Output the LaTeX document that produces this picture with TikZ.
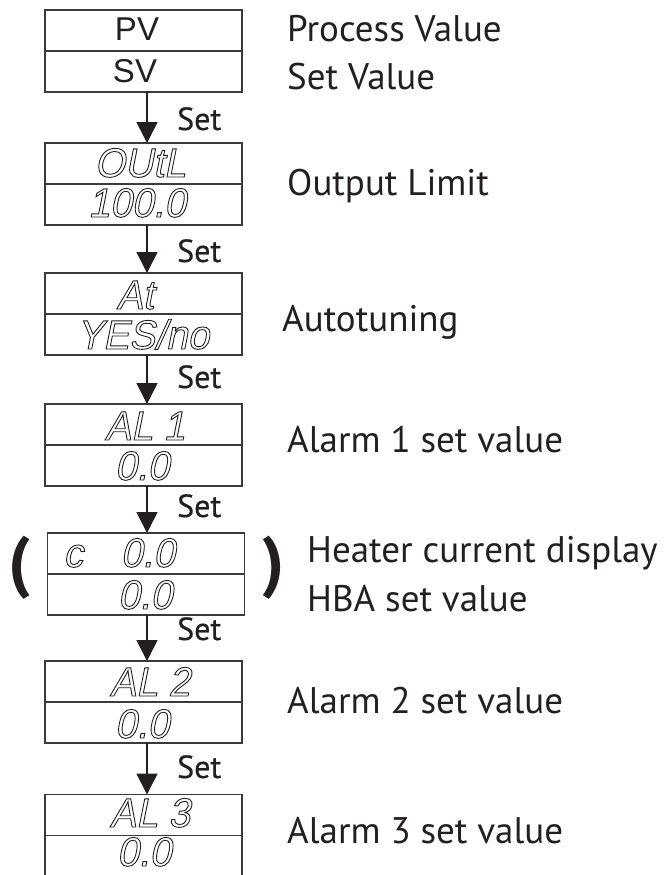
\documentclass[tikz,border=0pt]{standalone}
\usepackage{fontspec}
\setmainfont{PT Sans}
\newfontfamily\segfont[FakeSlant=0.2,FakeStretch=0.95]{Liberation Sans}
\newfontfamily\pvfont{Liberation Sans}
\newfontfamily\setfont[FakeBold=0.5]{PT Sans}
\usetikzlibrary{arrows.meta}
\definecolor{ink}{HTML}{231F20}
\definecolor{frame}{HTML}{3A3A3A}
\newcommand\hollowtext[1]{\special{pdf:literal 1 Tr 0.9 w}#1\special{pdf:literal 0 Tr}}
\begin{document}
\begin{tikzpicture}[x=1pt,y=-1pt,
  half/.style={draw=frame,line width=1.3pt,minimum width=197pt,minimum height=41pt,inner sep=0pt,outer sep=0pt},
  readout/.style={anchor=base,inner sep=0pt,text=ink,font=\segfont\fontsize{41}{41}\selectfont},
  pv/.style={anchor=base,inner sep=0pt,text=ink,font=\pvfont\fontsize{33}{33}\selectfont},
  desc/.style={anchor=base west,inner sep=0pt,text=ink,font=\fontsize{37}{37}\selectfont},
  setlbl/.style={anchor=base west,inner sep=0pt,text=ink,font=\setfont\fontsize{32}{32}\selectfont},
  paren/.style={inner sep=0pt,text=ink,font=\bfseries\fontsize{68}{68}\selectfont},
  flow/.style={draw=ink,line width=1.6pt,-{Triangle[width=21pt,length=21pt]}}
]
\useasboundingbox (0,0) rectangle (670,875);
\clip (0,0) rectangle (670,875);
\coordinate (ax) at (147,0);
% boxes
\node[half] (b1t) at (143.5,30.5) {};
\node[half] (b1b) at (143.5,71.5) {};
\node[half] (b2t) at (143.5,163.5) {};
\node[half] (b2b) at (143.5,204.5) {};
\node[half] (b3t) at (143.5,293.5) {};
\node[half] (b3b) at (143.5,334.5) {};
\node[half] (b4t) at (143.5,424.5) {};
\node[half] (b4b) at (143.5,465.5) {};
\node[half] (b5t) at (146,553.5) {};
\node[half] (b5b) at (146,594.5) {};
\node[half] (b6t) at (143.5,681.5) {};
\node[half] (b6b) at (143.5,722.5) {};
\node[half] (b7t) at (143.5,815) {};
\node[half] (b7b) at (143.5,856) {};
% box texts
\node[pv] (tpv) at (137,41) {PV};
\node[pv] (tsv) at (135,82) {SV};
\node[readout] (r2t) at (140,177) {\hollowtext{OUtL}};
\node[readout] (r2b) at (137,217) {\hollowtext{100.0}};
\node[readout] (r3t) at (135,309) {\hollowtext{At}};
\node[readout] (r3b) at (143,349) {\hollowtext{YES/no}};
\node[readout] (r4t) at (145,440) {\hollowtext{AL 1}};
\node[readout] (r4b) at (142,480) {\hollowtext{0.0}};
\node[readout,anchor=base west] (r5t) at (63,567) {\hollowtext{c\hspace{38pt}0.0}};
\node[readout] (r5b) at (145,609) {\hollowtext{0.0}};
\node[readout] (r6t) at (150,696) {\hollowtext{AL 2}};
\node[readout] (r6b) at (142,738) {\hollowtext{0.0}};
\node[readout] (r7t) at (150,827) {\hollowtext{AL 3}};
\node[readout] (r7b) at (144,866) {\hollowtext{0.0}};
% parentheses
\node[paren] (pl) at (20,568) {(};
\node[paren] (pr) at (274,568) {)};
% arrows
\draw[flow] (b1b.south -| ax) -- (b2t.north -| ax);
\draw[flow] (b2b.south -| ax) -- (b3t.north -| ax);
\draw[flow] (b3b.south -| ax) -- (b4t.north -| ax);
\draw[flow] (b4b.south -| ax) -- (b5t.north -| ax);
\draw[flow] (b5b.south -| ax) -- (b6t.north -| ax);
\draw[flow] (b6b.south -| ax) -- (b7t.north -| ax);
% Set labels
\node[setlbl] (s1) at (177,130) {Set};
\node[setlbl] (s2) at (177,262) {Set};
\node[setlbl] (s3) at (177,388) {Set};
\node[setlbl] (s4) at (177,517) {Set};
\node[setlbl] (s5) at (177,640) {Set};
\node[setlbl] (s6) at (177,778) {Set};
% descriptions
\node[desc] (d1) at (287,42) {Process Value};
\node[desc] (d2) at (287,89) {Set Value};
\node[desc] (d3) at (287,195) {Output Limit};
\node[desc] (d4) at (282,331) {Autotuning};
\node[desc] (d5) at (287,452) {Alarm 1 set value};
\node[desc] (d6) at (307,562) {Heater current display};
\node[desc] (d7) at (307,611) {HBA set value};
\node[desc] (d8) at (287,713) {Alarm 2 set value};
\node[desc] (d9) at (287,843) {Alarm 3 set value};
\end{tikzpicture}
\end{document}
